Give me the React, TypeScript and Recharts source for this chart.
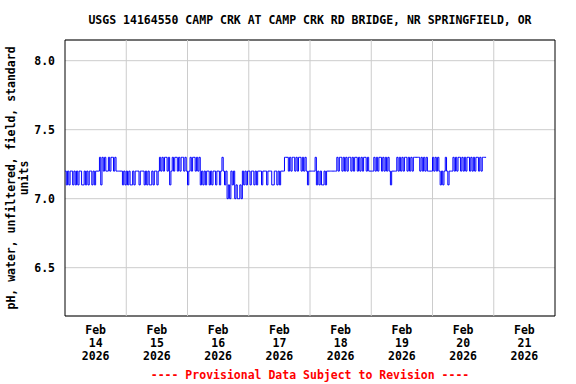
import React from 'react';
import {
  LineChart,
  Line,
  XAxis,
  YAxis,
  CartesianGrid,
  ReferenceLine,
  ReferenceArea,
} from 'recharts';

const FONT = '"DejaVu Sans Mono", "Liberation Mono", monospace';

const title = 'USGS 14164550 CAMP CRK AT CAMP CRK RD BRIDGE, NR SPRINGFIELD, OR';
const yLabel = ['pH, water, unfiltered, field, standard', 'units'];
const note = '---- Provisional Data Subject to Revision ----';

const dayLabels = ['14', '15', '16', '17', '18', '19', '20', '21'];
const dayTicks = [0.5, 1.5, 2.5, 3.5, 4.5, 5.5, 6.5, 7.5];
const midnights = [1, 2, 3, 4, 5, 6, 7];
const yTicks = [6.5, 7.0, 7.5, 8.0];

// pH readings every 30 minutes, in tenths of a unit, one list per day
const feb14 = [
  72, 71, 72, 71, 72, 72, 71, 72, 71, 72, 71, 72, 72, 71, 71, 72, 71, 72, 71, 72, 72, 71, 72, 71,
  72, 72, 72, 73, 71, 73, 72, 73, 72, 72, 73, 72, 73, 73, 72, 73, 72, 72, 72, 72, 72, 71, 72, 71,
];
const feb15 = [
  72, 71, 72, 71, 71, 72, 71, 72, 72, 72, 71, 72, 72, 72, 71, 72, 71, 72, 71, 71, 72, 71, 72, 72,
  71, 72, 73, 72, 73, 72, 73, 73, 72, 73, 71, 72, 73, 72, 73, 73, 72, 73, 72, 73, 73, 72, 73, 72,
];
const feb16 = [
  71, 72, 73, 72, 73, 73, 72, 73, 72, 73, 71, 72, 71, 72, 71, 72, 72, 71, 72, 71, 72, 72, 71, 72,
  72, 71, 72, 73, 72, 71, 72, 70, 71, 70, 72, 71, 72, 70, 71, 70, 70, 71, 70, 72, 71, 72, 71, 72,
];
const feb17 = [
  72, 71, 72, 72, 71, 72, 71, 72, 72, 72, 71, 72, 72, 72, 71, 72, 72, 72, 71, 71, 72, 72, 71, 72,
  71, 72, 72, 72, 73, 73, 73, 72, 73, 72, 73, 73, 72, 73, 72, 73, 73, 72, 73, 72, 73, 72, 71, 72,
];
const feb18 = [
  72, 72, 72, 72, 73, 71, 72, 71, 72, 71, 71, 72, 71, 72, 72, 72, 72, 72, 72, 72, 72, 73, 72, 73,
  73, 72, 73, 72, 73, 72, 73, 73, 72, 73, 72, 73, 73, 72, 73, 72, 73, 72, 73, 73, 72, 73, 72, 72,
];
const feb19 = [
  72, 72, 73, 72, 73, 72, 73, 73, 72, 73, 72, 73, 72, 73, 72, 71, 72, 72, 72, 72, 73, 72, 73, 72,
  73, 72, 73, 73, 72, 73, 72, 73, 72, 73, 73, 73, 73, 73, 72, 73, 72, 73, 72, 73, 72, 72, 72, 72,
];
const feb20 = [
  73, 72, 73, 72, 73, 72, 71, 72, 71, 72, 73, 72, 71, 72, 72, 72, 73, 72, 73, 72, 73, 73, 72, 73,
  72, 73, 72, 73, 73, 72, 73, 72, 73, 72, 73, 73, 72, 73, 72, 73, 73, 73, 73,
];

const days = [feb14, feb15, feb16, feb17, feb18, feb19, feb20];

const data = days.flatMap((vals, d) =>
  vals.map((v, i) => ({ t: d + i / 48, ph: v / 10 }))
);

const DateTick = ({ x, y, payload }: any) => {
  const label = dayLabels[Math.floor(payload.value)];
  return (
    <g transform={`translate(${x},${y})`}>
      <text textAnchor="middle" fontFamily={FONT} fontWeight="bold" fontSize={11.5} fill="#000">
        <tspan x={0} y={18}>Feb</tspan>
        <tspan x={0} y={31}>{label}</tspan>
        <tspan x={0} y={44}>2026</tspan>
      </text>
    </g>
  );
};

export default function App() {
  return (
    <div style={{ position: 'absolute', left: 0, top: 0, width: 576, height: 384, background: '#fff' }}>
      <LineChart
        width={576}
        height={384}
        data={data}
        margin={{ top: 40, right: 21, bottom: 0, left: 0 }}
      >
        <CartesianGrid vertical={false} stroke="#cccccc" />
        {midnights.map((m) => (
          <ReferenceLine key={m} x={m} stroke="#cccccc" />
        ))}
        <XAxis
          type="number"
          dataKey="t"
          domain={[0, 8]}
          ticks={dayTicks}
          interval={0}
          axisLine={false}
          tickLine={false}
          tickSize={0}
          tickMargin={0}
          height={68}
          tick={<DateTick />}
          allowDataOverflow
        />
        <YAxis
          type="number"
          domain={[6.15, 8.15]}
          ticks={yTicks}
          interval={0}
          axisLine={false}
          tickLine={false}
          tickSize={0}
          tickMargin={10}
          width={65}
          tickFormatter={(v: number) => v.toFixed(1)}
          tick={{ fontFamily: FONT, fontWeight: 'bold', fontSize: 11.5, fill: '#000' }}
          allowDataOverflow
        />
        <Line
          type="stepAfter"
          dataKey="ph"
          stroke="#0000ff"
          strokeWidth={1}
          dot={false}
          isAnimationActive={false}
        />
        <ReferenceArea x1={0} x2={8} y1={6.15} y2={8.15} fill="none" stroke="#000" strokeWidth={1} />
      </LineChart>
      <svg
        width={576}
        height={384}
        style={{ position: 'absolute', left: 0, top: 0, pointerEvents: 'none' }}
      >
        <text x={310} y={24} textAnchor="middle" fontFamily={FONT} fontWeight="bold" fontSize={11.5} fill="#000">
          {title}
        </text>
        <text
          transform="translate(15,178) rotate(-90)"
          textAnchor="middle"
          fontFamily={FONT}
          fontWeight="bold"
          fontSize={11.5}
          fill="#000"
        >
          <tspan x={0} y={0}>{yLabel[0]}</tspan>
          <tspan x={0} y={13}>{yLabel[1]}</tspan>
        </text>
        <text x={310} y={379} textAnchor="middle" fontFamily={FONT} fontWeight="bold" fontSize={11.5} fill="#ff0000">
          {note}
        </text>
      </svg>
    </div>
  );
}
